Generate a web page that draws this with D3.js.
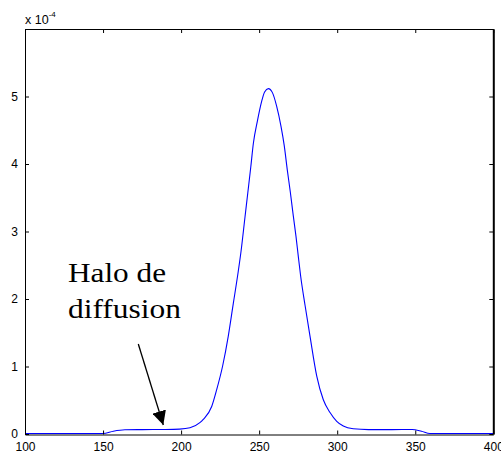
<!DOCTYPE html>
<html><head><meta charset="utf-8">
<script src="https://cdn.jsdelivr.net/npm/d3@7"></script>
<style>body{margin:0;background:#fff}svg{display:block}</style>
</head><body>
<svg id="c" width="501" height="453"></svg>
<script>
const xTicks = [100,150,200,250,300,350,400];
const yTicks = [0,1,2,3,4,5];
const xs = [100,150,156.6,164,175,190,199,205.7,212,214.2,219.6,222.8,226.6,230.2,233.4,236.6,238.4,240.9,242.7,244.6,246.3,248.8,251.6,253.5,255.9,258.5,261.2,264,266.1,268,270,271.9,273.6,275.1,276.6,279.4,282.6,286.9,291.1,295.4,299.7,303.9,310.3,320,335,348,354,359.4,400];
const ys = [0,0,0.034,0.055,0.058,0.06,0.065,0.084,0.16,0.21,0.40,0.65,1.00,1.44,1.92,2.40,2.70,3.20,3.56,3.94,4.30,4.62,4.92,5.06,5.11,5.05,4.85,4.55,4.26,3.91,3.57,3.22,2.92,2.62,2.33,1.90,1.44,0.85,0.50,0.31,0.18,0.11,0.07,0.058,0.058,0.06,0.034,0,0];
const annotLines = ["Halo de","diffusion"];
const exponentBase = "x 10";
const exponent = "-4";

const svg = d3.select("#c");
const L=25, R=493.3, T=29, B=434;
const x = d3.scaleLinear().domain([100,400]).range([L,R]);
const y = d3.scaleLinear().domain([0,6]).range([B,T]);
const font = "'Liberation Sans', Arial, Helvetica, sans-serif";

// curve
svg.append("path")
  .datum(xs.map((v,i)=>[v,ys[i]]))
  .attr("fill","none").attr("stroke","#0000ff").attr("stroke-width",1.1)
  .attr("d", d3.line().curve(d3.curveMonotoneX).x(d=>x(d[0])).y(d=>y(d[1])-0.5));

function styleAxis(g){
  g.selectAll(".domain").attr("stroke","#000");
  g.selectAll(".tick line").attr("stroke","#000");
  g.selectAll("text").attr("font-family",font).attr("font-size",12).attr("fill","#000");
}
svg.append("g").attr("transform",`translate(0,${B+0.5})`)
  .call(d3.axisBottom(x).tickValues(xTicks).tickSize(-4).tickSizeOuter(0).tickPadding(8).tickFormat(d3.format("d")))
  .call(styleAxis);
svg.append("g").attr("transform",`translate(0,${T})`)
  .call(d3.axisTop(x).tickValues(xTicks).tickSize(-4).tickSizeOuter(0).tickFormat(""))
  .call(styleAxis);
svg.append("g").attr("transform",`translate(${L},0)`)
  .call(d3.axisLeft(y).tickValues(yTicks).tickSize(-4).tickSizeOuter(0).tickPadding(7).tickFormat(d3.format("d")))
  .call(styleAxis);
svg.append("g").attr("transform",`translate(${R},0)`)
  .call(d3.axisRight(y).tickValues(yTicks).tickSize(-4).tickSizeOuter(0).tickFormat(""))
  .call(styleAxis)
  .call(g=>g.select(".domain").attr("stroke-width",2));

// exponent label
const ex = svg.append("text").attr("x",L).attr("y",24)
  .attr("font-family",font).attr("font-size",12.5).attr("fill","#000");
ex.append("tspan").text(exponentBase);
ex.append("tspan").attr("dy",-7.5).attr("font-size",8).text(exponent);

// annotation
annotLines.forEach((t,i)=>{
  svg.append("text").attr("x",68).attr("y",282+i*35.5)
    .attr("font-family","'Liberation Serif','Times New Roman',serif")
    .attr("font-size",28).attr("fill","#000")
    .attr("textLength", i===0?98:113).attr("lengthAdjust","spacingAndGlyphs")
    .text(t);
});
// arrow
svg.append("defs").append("marker").attr("id","ah")
  .attr("viewBox","0 0 10 10").attr("refX",10).attr("refY",5)
  .attr("markerWidth",14).attr("markerHeight",14).attr("markerUnits","userSpaceOnUse")
  .attr("orient","auto")
  .append("path").attr("d","M0,0L10,5L0,10z").attr("fill","#000");
svg.append("line").attr("x1",138.3).attr("y1",344).attr("x2",163.3).attr("y2",425)
  .attr("stroke","#000").attr("stroke-width",1.3).attr("marker-end","url(#ah)");
</script>
</body></html>
